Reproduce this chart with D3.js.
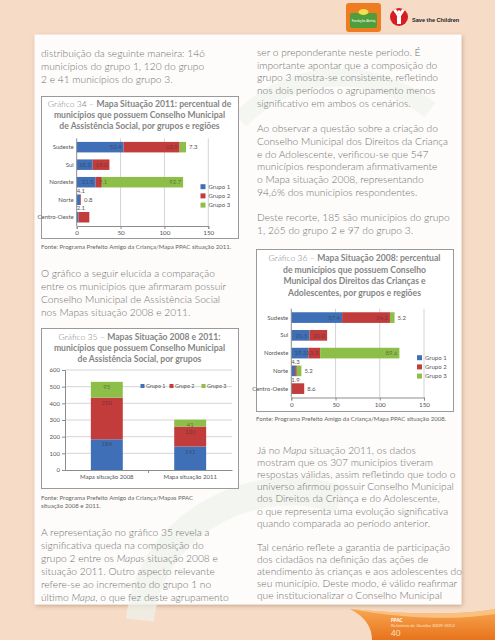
<!DOCTYPE html>
<html><head><meta charset="utf-8">
<script src="https://cdn.jsdelivr.net/npm/d3@7"></script>
<style>html,body{margin:0;padding:0;background:#f6dcc7;} svg{display:block}</style>
</head><body><svg id="c" width="495" height="640"></svg>
<script>
// ---------- data ----------
const regions = ["Sudeste","Sul","Nordeste","Norte","Centro-Oeste"];
const groups = ["Grupo 1","Grupo 2","Grupo 3"];
// Gráfico 34 – 2011
const g1_2011 = [53.4, 18.3, 21.5, 4.1, 2.1];
const g2_2011 = [63.9, 19.0, 7.1, 0.8, 12.3];
const g3_2011 = [7.3, 0, 92.7, 0, 0];
const lab1_2011 = ["53.4","18.3","21.5","4.1","2.1"];
const lab2_2011 = ["63.9","19.0","7.1","0.8",""];
const lab3_2011 = ["7.3","","92.7","",""];
// Gráfico 36 – 2008
const g1_2008 = [57.4, 20.5, 19.3, 4.3, 0];
const g2_2008 = [54.1, 20.0, 13.3, 1.9, 14.6];
const g3_2008 = [5.2, 0, 89.6, 5.2, 0];
const lab1_2008 = ["57.4","20.5","19.3","4.3",""];
const lab2_2008 = ["54.1","20.0","13.3","1.9","8.6"];
const lab3_2008 = ["5.2","","89.6","5.2",""];
// Gráfico 35
const mapas = ["Mapa situação 2008","Mapa situação 2011"];
const g1_mapas = [184, 141];
const g2_mapas = [250, 120];
const g3_mapas = [95, 41];
const hTicks = [0,50,100,150];
const vTicks = [0,100,200,300,400,500,600];
const colors = ["#3f6fb6","#c23c3c","#8dbf48"];

// ---------- texts ----------
const leftTop = ["distribuição da seguinte maneira: 146","municípios do grupo 1, 120 do grupo","2 e 41 municípios do grupo 3."];
const leftMid = ["O gráfico a seguir elucida a comparação","entre os municípios que afirmaram possuir","Conselho Municipal de Assistência Social","nos Mapas situação 2008 e 2011."];
const leftBot = ["A representação no gráfico 35 revela a","significativa queda na composição do","grupo 2 entre os *Mapas* situação 2008 e","situação 2011. Outro aspecto relevante","refere-se ao incremento do grupo 1 no","último *Mapa*, o que fez deste agrupamento"];
const rightTop = ["ser o preponderante neste período. É","importante apontar que a composição do","grupo 3 mostra-se consistente, refletindo","nos dois períodos o agrupamento menos","significativo em ambos os cenários.","","Ao observar a questão sobre a criação do","Conselho Municipal dos Direitos da Criança","e do Adolescente, verificou-se que 547","municípios responderam afirmativamente","o Mapa situação 2008, representando","94,6% dos municípios respondentes.","","Deste recorte, 185 são municípios do grupo","1, 265 do grupo 2 e 97 do grupo 3."];
const rightBot = ["Já no *Mapa* situação 2011, os dados","mostram que os 307 municípios tiveram","respostas válidas, assim refletindo que todo o","universo afirmou possuir Conselho Municipal","dos Direitos da Criança e do Adolescente,","o que representa uma evolução significativa","quando comparada ao período anterior.","","Tal cenário reflete a garantia de participação","dos cidadãos na definição das ações de","atendimento às crianças e aos adolescentes do","seu município. Deste modo, é válido reafirmar","que institucionalizar o Conselho Municipal"];
const title34 = [["Gráfico 34 – ","Mapa Situação 2011: percentual de"],["","municípios que possuem Conselho Municipal"],["","de Assistência Social, por grupos e regiões"]];
const title35 = [["Gráfico 35 – ","Mapas Situação 2008 e 2011:"],["","municípios que possuem Conselho Municipal"],["","de Assistência Social, por grupos"]];
const title36 = [["Gráfico 36 – ","Mapa Situação 2008: percentual"],["","de municípios que possuem Conselho"],["","Municipal dos Direitos das Crianças e"],["","Adolescentes, por grupos e regiões"]];

// ---------- drawing ----------
const svg = d3.select("#c");
const FONT = "Lato, 'Open Sans', sans-serif";
const BODY = "'Lato Light', Lato, 'Open Sans', sans-serif";
const defs = svg.append("defs");
const f = defs.append("filter").attr("id","sh").attr("x","-5%").attr("y","-5%").attr("width","110%").attr("height","110%");
f.append("feDropShadow").attr("dx",1).attr("dy",1.5).attr("stdDeviation",2).attr("flood-color","#8a6a50").attr("flood-opacity",0.45);
const gr = defs.append("linearGradient").attr("id","sw").attr("x1",0).attr("y1",0).attr("x2",0).attr("y2",1);
gr.append("stop").attr("offset","0").attr("stop-color","#f7a650");
gr.append("stop").attr("offset","1").attr("stop-color","#e8731c");

svg.append("rect").attr("width",495).attr("height",640).attr("fill","#f6dcc7");
svg.append("rect").attr("x",34.5).attr("y",34.5).attr("width",427).attr("height",570).attr("fill","#fdfcfa").attr("filter","url(#sh)");
// faint watermark shapes on the panel
svg.append("path").attr("d","M140 620 C 150 520, 260 470, 340 500").attr("fill","none").attr("stroke","#eef2ec").attr("stroke-width",28).attr("opacity",0.7);
svg.append("path").attr("d","M240 120 C 300 60, 380 70, 430 110").attr("fill","none").attr("stroke","#eef2ec").attr("stroke-width",18).attr("opacity",0.6);

// logos
svg.append("rect").attr("x",346).attr("y",3).attr("width",35).attr("height",29).attr("rx",3).attr("fill","#ee7d22");
svg.append("rect").attr("x",350).attr("y",13).attr("width",27).attr("height",15).attr("rx",2).attr("fill","#4f9e3c");
svg.append("ellipse").attr("cx",363.5).attr("cy",12).attr("rx",5).attr("ry",3).attr("fill","#f4e04d");
svg.append("text").attr("x",363.5).attr("y",22).attr("text-anchor","middle").attr("font-size",3.2).attr("fill","#fff").attr("font-family",FONT).text("Fundação Abrinq");
svg.append("circle").attr("cx",399).attr("cy",17).attr("r",9).attr("fill","#d71e22");
svg.append("path").attr("d","M393 10 L397 16 L397 24 L401 24 L401 16 L405 10 L402 9 L399 14 L396 9 Z").attr("fill","#fff");
svg.append("circle").attr("cx",399).attr("cy",12).attr("r",1.8).attr("fill","#fff");
svg.append("text").attr("x",412).attr("y",22).attr("font-size",5.6).attr("font-weight","bold").attr("fill","#222").attr("font-family","'Liberation Sans', Arial, sans-serif").text("Save the Children");

// body text
function para(x, y, dy, lines){
  lines.forEach((ln,i)=>{
    if(!ln) return;
    const tt = svg.append("text").attr("x",x).attr("y",y+i*dy).attr("font-family",BODY).attr("font-size",10.2).attr("fill","#727272").attr("font-weight",300);
    ln.split("*").forEach((p,j)=>{ if(!p) return; const ts=tt.append("tspan").text(p); if(j%2===1) ts.attr("font-style","italic"); });
  });
}
para(41, 57, 13, leftTop);
para(41, 277, 13, leftMid);
para(41, 536, 12.9, leftBot);
para(257, 56, 12.7, rightTop);
para(257, 454, 12.1, rightBot);

function box(x,y,w,h){ svg.append("rect").attr("x",x+0.5).attr("y",y+0.5).attr("width",w).attr("height",h).attr("fill","#fff").attr("stroke","#9a9a9a").attr("stroke-width",1); }
function title(cx, y, dy, lines){
  lines.forEach((ln,i)=>{
    const t = svg.append("text").attr("x",cx).attr("y",y+i*dy).attr("text-anchor","middle").attr("font-family",FONT).attr("font-size",8.6).attr("fill","#858585");
    if(ln[0]) t.append("tspan").attr("font-weight",300).text(ln[0]);
    t.append("tspan").attr("font-weight",700).text(ln[1]);
  });
}
function source(x,y,lines){
  lines.forEach((l,i)=> svg.append("text").attr("x",x).attr("y",y+i*8).attr("font-family",FONT).attr("font-weight",400).attr("font-size",6.1).attr("fill","#666").text(l));
}

function hbar(o){
  const g = svg.append("g");
  const x = d3.scaleLinear().domain([0,150]).range([o.x0,o.x1]);
  const y = d3.scaleBand().domain(regions).range([o.yTop,o.yBot]).paddingInner(0.4).paddingOuter(0.2);
  hTicks.slice(1).forEach(t=> g.append("line").attr("x1",x(t)).attr("x2",x(t)).attr("y1",o.yTop).attr("y2",o.yBot).attr("stroke","#c9c9c9").attr("stroke-width",0.8));
  const rows = regions.map((r,i)=>({region:r,"Grupo 1":o.v[0][i],"Grupo 2":o.v[1][i],"Grupo 3":o.v[2][i]}));
  const st = d3.stack().keys(groups)(rows);
  st.forEach((s,gi)=>{
    g.selectAll(null).data(s).enter().append("rect")
      .attr("x",d=>x(d[0])).attr("width",d=>x(d[1])-x(d[0]))
      .attr("y",d=>y(d.data.region)).attr("height",y.bandwidth()).attr("fill",colors[gi]);
  });
  st.forEach((s,gi)=>{
    s.forEach((d,ri)=>{
      const lab = o.l[gi][ri]; if(!lab) return;
      const val = d[1]-d[0];
      const yc = y(d.data.region)+y.bandwidth()/2;
      const rowEnd = x(d3.sum(o.v, a=>a[ri]));
      let px, py, anchor="start", inside=false;
      if(d.data.region==="Centro-Oeste" && gi===1){ px=rowEnd+3; py=yc+2.2; }
      else if(val>=10){ px=x(d[1])-2; py=yc+2.2; anchor="end"; inside=true; }
      else if(val>=6 && gi===1){ px=x(d[1])-3; py=yc+2.2; inside=true; }
      else if(gi===0){ px=x(0); py=y(d.data.region)-1.5; }
      else if(gi===1 && o.v[2][ri]>0){ px=x(0); py=y(d.data.region)+y.bandwidth()+6; }
      else { px=rowEnd+3; py=yc+2.2; }
      g.append("text").attr("x",px).attr("y",py).attr("text-anchor",anchor).attr("font-family",FONT)
        .attr("font-size",6).attr("fill",inside?"#2f2f2f":"#555").attr("fill-opacity",inside?0.55:1).text(lab);
    });
  });
  const ax = g.append("g").attr("transform",`translate(0,${o.yBot})`).call(d3.axisBottom(x).tickValues(hTicks).tickSize(3).tickPadding(2));
  ax.select(".domain").attr("stroke","#8c8c8c");
  ax.selectAll(".tick line").attr("stroke","#8c8c8c");
  ax.selectAll("text").attr("font-family",FONT).attr("font-size",6.3).attr("fill","#555");
  const ay = g.append("g").attr("transform",`translate(${o.x0},0)`).call(d3.axisLeft(y).tickSize(0).tickPadding(3));
  ay.select(".domain").attr("stroke","#8c8c8c").attr("d",`M0,${o.yTop}V${o.yBot}`);
  ay.selectAll("text").attr("font-family",FONT).attr("font-size",6).attr("fill","#555");
  groups.forEach((k,i)=>{
    g.append("rect").attr("x",o.lx).attr("y",o.ly+i*9.2-2.5).attr("width",5).attr("height",5).attr("fill",colors[i]);
    g.append("text").attr("x",o.lx+8).attr("y",o.ly+i*9.2+2.2).attr("font-family",FONT).attr("font-size",6).attr("fill","#555").text(k);
  });
}

// Gráfico 34
box(41,96,197,142);
title(139.5, 106.5, 11, title34);
hbar({x0:76.7,x1:208.3,yTop:138.4,yBot:226,v:[g1_2011,g2_2011,g3_2011],l:[lab1_2011,lab2_2011,lab3_2011],lx:200.5,ly:186.7});
source(41, 249, ["Fonte: Programa Prefeito Amigo da Criança/Mapa PPAC situação 2011."]);

// Gráfico 35
box(41,328,197,160);
title(139.5, 340, 11, title35);
(function(){
  const g = svg.append("g");
  const y = d3.scaleLinear().domain([0,600]).range([470,370]);
  const x = d3.scaleBand().domain(mapas).range([65,232]).paddingInner(0.617).paddingOuter(0.31);
  vTicks.slice(1).forEach(t=> g.append("line").attr("x1",65).attr("x2",232).attr("y1",y(t)).attr("y2",y(t)).attr("stroke","#c9c9c9").attr("stroke-width",0.8));
  const rows = mapas.map((m,i)=>({mapa:m,"Grupo 1":g1_mapas[i],"Grupo 2":g2_mapas[i],"Grupo 3":g3_mapas[i]}));
  const st = d3.stack().keys(groups)(rows);
  st.forEach((s,gi)=>{
    g.selectAll(null).data(s).enter().append("rect").attr("x",d=>x(d.data.mapa)).attr("width",x.bandwidth())
      .attr("y",d=>y(d[1])).attr("height",d=>y(d[0])-y(d[1])).attr("fill",colors[gi]);
    g.selectAll(null).data(s).enter().append("text").attr("x",d=>x(d.data.mapa)+x.bandwidth()/2).attr("y",d=>y(d[1])+7)
      .attr("text-anchor","middle").attr("font-family",FONT).attr("font-size",6).attr("fill","#2f2f2f").attr("fill-opacity",0.55)
      .text(d=>d[1]-d[0]);
  });
  const ay = g.append("g").attr("transform","translate(65,0)").call(d3.axisLeft(y).tickValues(vTicks).tickSize(3).tickPadding(2));
  ay.select(".domain").attr("stroke","#8c8c8c"); ay.selectAll(".tick line").attr("stroke","#8c8c8c");
  ay.selectAll("text").attr("font-family",FONT).attr("font-size",6).attr("fill","#555");
  const ax = g.append("g").attr("transform","translate(0,470)").call(d3.axisBottom(x).tickSize(0).tickPadding(5));
  ax.select(".domain").attr("stroke","#8c8c8c");
  ax.selectAll("text").attr("font-family",FONT).attr("font-size",6).attr("fill","#555");
  const mid = (x(mapas[0])+x(mapas[1])+x.bandwidth())/2;
  g.append("line").attr("x1",mid).attr("x2",mid).attr("y1",470).attr("y2",473).attr("stroke","#8c8c8c");
  const lxs=[140.5,169.5,201.5];
  groups.forEach((k,i)=>{
    g.append("rect").attr("x",lxs[i]).attr("y",384).attr("width",4).attr("height",4).attr("fill",colors[i]);
    g.append("text").attr("x",lxs[i]+5.5).attr("y",388).attr("font-family",FONT).attr("font-size",5.4).attr("fill","#555").text(k);
  });
})();
source(41, 500, ["Fonte: Programa Prefeito Amigo da Criança/Mapas PPAC","situação 2008 e 2011."]);

// Gráfico 36
box(256,249,197,162);
title(354.5, 261, 11.5, title36);
hbar({x0:291.3,x1:424,yTop:308.7,yBot:397.5,v:[g1_2008,g2_2008,g3_2008],l:[lab1_2008,lab2_2008,lab3_2008],lx:417,ly:357.7});
source(256, 421, ["Fonte: Programa Prefeito Amigo da Criança/Mapa PPAC situação 2008."]);

// footer swoosh
svg.append("path").attr("d","M350 609 C 400 613, 450 617, 495 609 L495 640 L372 640 C 372 628, 366 617, 350 609 Z").attr("fill","url(#sw)");
svg.append("path").attr("d","M350 609 C 400 613, 450 617, 495 609 L495 614 C 450 621, 400 618, 350 609 Z").attr("fill","#fbc98f").attr("opacity",0.8);
svg.append("text").attr("x",391).attr("y",622).attr("font-family",FONT).attr("font-size",4.6).attr("font-weight","bold").attr("fill","#fff").text("PPAC");
svg.append("text").attr("x",391).attr("y",627).attr("font-family",FONT).attr("font-size",4.6).attr("fill","#fde3c4").text("Relatório de Gestão 2009-2012");
svg.append("text").attr("x",391).attr("y",636).attr("font-family",FONT).attr("font-size",8).attr("fill","#fde3c4").text("40");
</script></body></html>
